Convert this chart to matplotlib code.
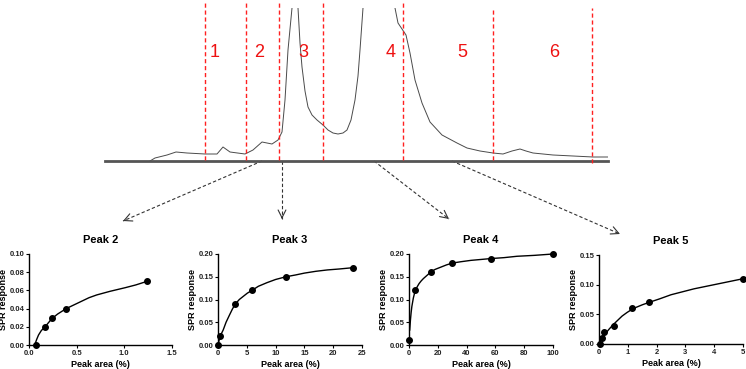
import matplotlib
matplotlib.use("Agg")
import matplotlib.pyplot as plt
import numpy as np

plt.rcParams['font.family'] = ['Liberation Sans', 'DejaVu Sans']

# chromatogram trace (time units, signal units), peaks run off the top
chrom_t = [45, 50, 62, 71, 82, 100, 112, 118, 125, 140, 148, 157, 162, 167, 173, 177, 180, 183, 187,
           190, 193, 195, 197, 200, 203, 207, 212, 218, 223, 228, 233, 238, 242, 246, 250, 253, 255, 258,
           274, 290, 293, 297, 301, 305, 310, 317, 325, 337, 352, 362, 375, 388, 398, 407, 415, 421, 428,
           448, 488, 503]
chrom_s = [0, 3, 6, 9, 8, 7, 7, 14, 9, 7, 11, 19, 18, 17, 21, 29, 61, 111, 153,
           400, 153, 118, 94, 70, 54, 46, 41, 36, 31, 28, 27, 28, 31, 41, 61, 85, 111, 153,
           900, 153, 138, 132, 126, 108, 81, 58, 39, 26, 18, 13, 10, 8, 7, 10, 12, 10, 8,
           6, 4, 4]
fraction_edges = [100, 141, 174, 218, 298, 388, 487]
fraction_labels = ['1', '2', '3', '4', '5', '6']
label_t = [110, 154, 198, 286, 357, 449]

# dose-response panels
titles = ['Peak 2', 'Peak 3', 'Peak 4', 'Peak 5']
pts_x = [[0.07, 0.17, 0.24, 0.39, 1.24],
         [0.05, 0.4, 3.0, 5.9, 11.8, 23.5],
         [0.3, 4.5, 15, 30, 57, 100],
         [0.03, 0.1, 0.19, 0.51, 1.13, 1.72, 5.0]]
pts_y = [[0.0, 0.02, 0.03, 0.04, 0.07],
         [0.0, 0.02, 0.09, 0.12, 0.15, 0.17],
         [0.01, 0.12, 0.16, 0.18, 0.19, 0.20],
         [0.0, 0.01, 0.02, 0.03, 0.06, 0.07, 0.11]]
fit_x = [[0.06, 0.08, 0.1, 0.13, 0.17, 0.2, 0.24, 0.3, 0.39, 0.47, 0.55, 0.63, 0.71, 0.85, 1.01, 1.12, 1.24],
         [0.0, 0.2, 0.4, 0.9, 1.4, 2.0, 2.5, 3.0, 3.7, 4.4, 5.1, 5.9, 7.0, 8.5, 10, 11.8, 13.5, 15, 17, 19, 21, 23.5],
         [0.5, 0.8, 1, 1.5, 2, 3, 3.7, 4.5, 5.7, 7, 8.5, 10, 12.5, 15, 18, 22, 26, 30, 36, 43, 50, 57, 66, 75, 87, 100],
         [0.0, 0.05, 0.1, 0.2, 0.35, 0.5, 0.65, 0.8, 0.97, 1.13, 1.3, 1.5, 1.73, 2.1, 2.5, 2.9, 3.3, 3.7, 4.2, 4.6, 5.0]]
fit_y = [[0.0, 0.006, 0.011, 0.016, 0.02, 0.024, 0.029, 0.034, 0.04, 0.044, 0.048, 0.052, 0.055, 0.059, 0.063, 0.066, 0.07],
         [0.0, 0.011, 0.02, 0.033, 0.05, 0.066, 0.079, 0.09, 0.1, 0.107, 0.114, 0.12, 0.129, 0.137, 0.144, 0.15, 0.154, 0.158, 0.162, 0.165, 0.167, 0.17],
         [0.033, 0.046, 0.055, 0.072, 0.085, 0.103, 0.112, 0.12, 0.128, 0.135, 0.141, 0.146, 0.153, 0.16, 0.166, 0.171, 0.176, 0.18, 0.183, 0.186, 0.188, 0.19, 0.192, 0.195, 0.197, 0.2],
         [0.0, 0.005, 0.009, 0.016, 0.025, 0.033, 0.04, 0.047, 0.053, 0.058, 0.062, 0.066, 0.07, 0.076, 0.083, 0.088, 0.093, 0.097, 0.102, 0.106, 0.11]]
xlims = [1.5, 25, 100, 5]
ylims = [0.10, 0.20, 0.20, 0.15]
xticks = [[0.0, 0.5, 1.0, 1.5], [0, 5, 10, 15, 20, 25], [0, 20, 40, 60, 80, 100], [0, 1, 2, 3, 4, 5]]
yticks = [[0.0, 0.02, 0.04, 0.06, 0.08, 0.10], [0, 0.05, 0.10, 0.15, 0.20],
          [0, 0.05, 0.10, 0.15, 0.20], [0, 0.05, 0.10, 0.15]]
xfmt = ['{:.1f}', '{:d}', '{:d}', '{:d}']
yfmt = ['{:.2f}', '{:.2f}', '{:.2f}', '{:.2f}']

W, H = 746, 369
fig = plt.figure(figsize=(W / 100, H / 100), dpi=100)

# overlay in pixel space for arrows
ov = fig.add_axes([0, 0, 1, 1])
ov.set_xlim(0, W)
ov.set_ylim(H, 0)
ov.axis('off')

arrows = [((262, 161), (123, 221)), ((282, 161), (282, 219)),
          ((374, 161), (449, 219)), ((452, 161), (620, 234))]
for (x0, y0), (x1, y1) in arrows:
    ov.plot([x0, x1], [y0, y1], color='#333333', lw=0.8, ls=(0, (3, 2)))
    dx, dy = x1 - x0, y1 - y0
    n = np.hypot(dx, dy)
    ov.annotate('', xy=(x1, y1), xytext=(x1 - dx / n * 2, y1 - dy / n * 2),
                arrowprops=dict(arrowstyle='->', color='#333333', lw=0.8, mutation_scale=14))

# chromatogram
top = 8
ax = fig.add_axes([105 / W, 1 - 161 / H, 503 / W, (161 - top) / H])
ax.set_xlim(0, 503)
ax.set_ylim(0, 161 - top)
ax.axis('off')
ax.plot(chrom_t, chrom_s, color='#4a4a4a', lw=0.7)
ax.axhline(0, color='#555555', lw=2, clip_on=False)
for i, t in enumerate(fraction_edges):
    ytop = 159 if i < 5 else 153
    ybot = 1 if i < 6 else -2
    ax.plot([t, t], [ybot, ytop], color='#ff2020', lw=1, ls=(0, (3, 2)), clip_on=False)
for i, lab in enumerate(fraction_labels):
    ax.text(label_t[i], 109, lab, color='#ee1111', fontsize=13, ha='center', va='center')

# panels: left px, right px, top px, bottom px
boxes = [(29, 172, 254, 345), (218, 362, 254, 345), (409, 553, 254, 345), (599, 743, 255, 344)]
for k in range(4):
    l, r, t, b = boxes[k]
    a = fig.add_axes([l / W, 1 - b / H, (r - l) / W, (b - t) / H])
    a.plot(fit_x[k], fit_y[k], color='black', lw=1, clip_on=False)
    a.plot(pts_x[k], pts_y[k], 'o', color='black', ms=4, clip_on=False)
    a.set_xlim(0, xlims[k])
    a.set_ylim(0, ylims[k])
    a.set_xticks(xticks[k])
    a.set_yticks(yticks[k])
    a.set_xticklabels([xfmt[k].format(v) for v in xticks[k]])
    a.set_yticklabels([yfmt[k].format(v) for v in yticks[k]])
    for sp in ['top', 'right']:
        a.spines[sp].set_visible(False)
    for sp in ['left', 'bottom']:
        a.spines[sp].set_linewidth(1)
    a.tick_params(direction='out', length=2.5, width=0.8, labelsize=5.5, pad=1)
    for lab in a.get_xticklabels() + a.get_yticklabels():
        lab.set_fontweight('bold')
        lab.set_color('#222222')
    a.set_title(titles[k], fontsize=8, fontweight='bold', pad=8)
    a.set_xlabel('Peak area (%)', fontsize=6.5, fontweight='bold', labelpad=2)
    a.set_ylabel('SPR response', fontsize=6.5, fontweight='bold', labelpad=1)

fig.savefig('out.png', dpi=100)
